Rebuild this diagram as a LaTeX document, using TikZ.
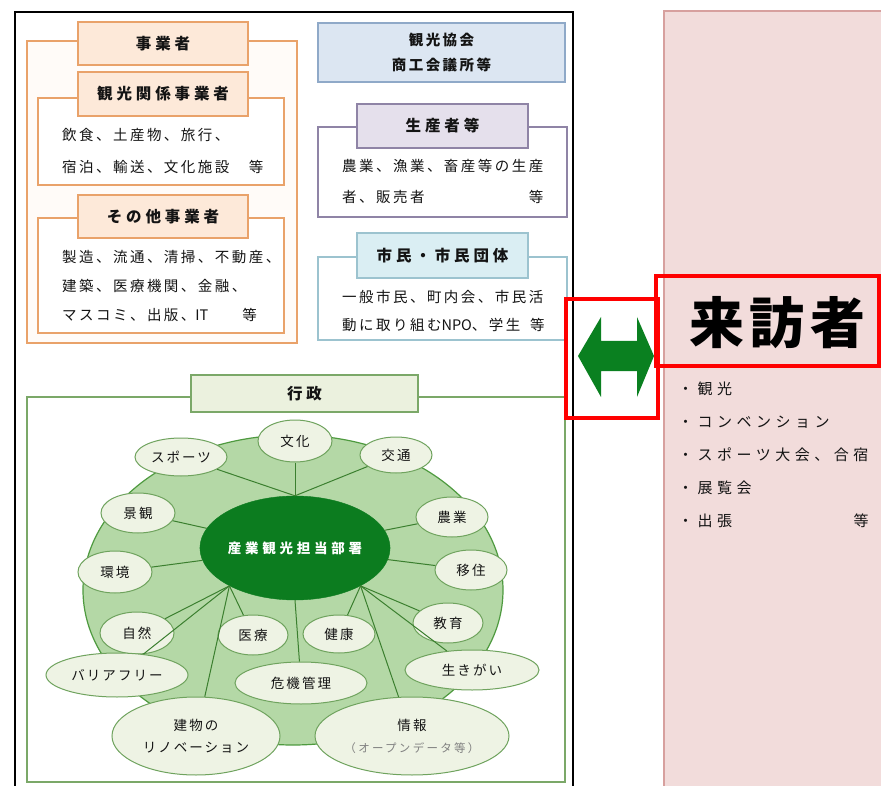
\documentclass[tikz,border=0pt]{standalone}
\usepackage{fontspec}
\setmainfont{Noto Sans CJK JP}
\newfontfamily\lsT[LetterSpace=25]{Noto Sans CJK JP}
\newfontfamily\lsB[LetterSpace=17]{Noto Sans CJK JP}
\newfontfamily\lsE[LetterSpace=15]{Noto Sans CJK JP}
\newfontfamily\lsC[LetterSpace=28]{Noto Sans CJK JP}
\newfontfamily\lsL[LetterSpace=30]{Noto Sans CJK JP}
\newfontfamily\lsV[LetterSpace=10]{Noto Sans CJK JP}
\newfontfamily\lsS[LetterSpace=20]{Noto Sans CJK JP}
\newfontfamily\lsN{Noto Sans CJK JP}
\usetikzlibrary{shapes.geometric}
\definecolor{orB}{HTML}{E9A26A}
\definecolor{orF}{HTML}{FDE9D9}
\definecolor{orP}{HTML}{FFFBF8}
\definecolor{blB}{HTML}{8FA9C8}
\definecolor{blF}{HTML}{DCE6F2}
\definecolor{puB}{HTML}{8F84A6}
\definecolor{puF}{HTML}{E5E0EC}
\definecolor{cyB}{HTML}{9CC3CF}
\definecolor{cyF}{HTML}{DAEEF3}
\definecolor{grB}{HTML}{7BA868}
\definecolor{grF}{HTML}{EBF1DE}
\definecolor{ringF}{HTML}{B4D8A6}
\definecolor{ringB}{HTML}{4E9A3F}
\definecolor{lineG}{HTML}{3B7F2F}
\definecolor{ellF}{HTML}{EEF3E4}
\definecolor{ellB}{HTML}{6FA35E}
\definecolor{darkG}{HTML}{0C7C1F}
\definecolor{arrG}{HTML}{0A8020}
\definecolor{pkF}{HTML}{F2DCDB}
\definecolor{pkB}{HTML}{D7A09E}
\definecolor{txt}{HTML}{141414}
\tikzset{
  outerbox/.style={draw=#1, line width=1.2pt, fill=white, inner sep=0pt},
  tabbox/.style 2 args={draw=#1, fill=#2, line width=1.2pt, inner sep=0pt, text=txt,
     font=\lsT\fontsize{15.5}{18}\selectfont\bfseries},
  body/.style={anchor=west, inner sep=0pt, align=left, text=txt},
  ell/.style={ellipse, draw=ellB, fill=ellF, line width=1pt, inner sep=0pt, text=txt,
     font=\lsE\fontsize{13.5}{22}\selectfont, align=center},
  spoke/.style={draw=lineG, line width=1pt},
  redbox/.style={draw=red, line width=3.5pt}
}
\begin{document}
\begin{tikzpicture}[x=1pt,y=-1pt]
\useasboundingbox (0,0) rectangle (881,786);
\clip (0,0) rectangle (881,786);
\fill[white] (0,0) rectangle (881,786);
% right pink area
\draw[draw=pkB, fill=pkF, line width=1.2pt] (664,11) rectangle (920,820);
% black frame
\draw[line width=1.6pt] (15,800) -- (15,12) -- (573,12) -- (573,800);
% 事業者
\node[outerbox=orB, fill=orP, minimum width=270, minimum height=302] (jgo) at (162,192) {};
\node[tabbox={orB}{orF}, minimum width=170, minimum height=43] (jgot) at (163,43.5) {事業者};
\node[outerbox=orB, minimum width=246, minimum height=87] (kan) at (161,141.5) {};
\node[tabbox={orB}{orF}, minimum width=170, minimum height=44] (kant) at (163,94) {観光関係事業者};
\node[body, font=\lsB\fontsize{14.5}{32}\selectfont] (kanx) at (62,151) {飲食、土産物、旅行、\\宿泊、輸送、文化施設　等};
\node[outerbox=orB, minimum width=246, minimum height=115] (oth) at (161,275.5) {};
\node[tabbox={orB}{orF}, minimum width=170, minimum height=43] (otht) at (163,216.5) {その他事業者};
\node[body, font=\lsB\fontsize{14.5}{29}\selectfont] (othx) at (62,286) {製造、流通、清掃、不動産、\\建築、医療機関、金融、\\マスコミ、出版、{\lsN IT}　　等};
% 観光協会
\node[tabbox={blB}{blF}, minimum width=247, minimum height=59, align=center,
      font=\lsB\fontsize{14.5}{25}\selectfont\bfseries] (kyo) at (441.5,52.5) {観光協会\\商工会議所等};
% 生産者等
\node[outerbox=puB, minimum width=249, minimum height=90] (sei) at (442.5,172) {};
\node[tabbox={puB}{puF}, minimum width=171, minimum height=44] (seit) at (442.5,126) {生産者等};
\node[body, font=\lsB\fontsize{14.5}{31}\selectfont] (seix) at (342,181.5) {農業、漁業、畜産等の生産\\者、販売者　　　　　　等};
% 市民
\node[outerbox=cyB, minimum width=249, minimum height=83] (shi) at (442.5,298.5) {};
\node[tabbox={cyB}{cyF}, minimum width=171, minimum height=45] (shit) at (442.5,255.5) {市民・市民団体};
\node[body, font=\lsB\fontsize{14.5}{28}\selectfont] (shix) at (342,311) {一般市民、町内会、市民活\\動に取り組む{\lsN NPO}、学生\hspace{4pt} 等};
% 行政
\node[outerbox=grB, minimum width=538, minimum height=385] (gyo) at (296,589.5) {};
\node[tabbox={grB}{grF}, minimum width=227, minimum height=37] (gyot) at (304.5,393.5) {行政};
\node[ellipse, draw=ringB, fill=ringF, line width=1.2pt, minimum width=420, minimum height=310, inner sep=0pt] (ring) at (293,590) {};
\node[ellipse, fill=darkG, draw=darkG, minimum width=186, minimum height=104, inner sep=0pt,
      text=white, font=\lsC\fontsize{13.5}{16}\selectfont\bfseries] (c) at (295,548) {産業観光担当部署};
\node[ell, minimum width=74, minimum height=42] (bunka) at (295,441) {文化};
\node[ell, minimum width=92, minimum height=38] (sports) at (181,457) {スポーツ};
\node[ell, minimum width=72, minimum height=36] (kotsu) at (396,455) {交通};
\node[ell, minimum width=74, minimum height=40] (keikan) at (138,513) {景観};
\node[ell, minimum width=72, minimum height=40] (nogyo) at (452,517) {農業};
\node[ell, minimum width=74, minimum height=42] (kankyo) at (115,572) {環境};
\node[ell, minimum width=72, minimum height=40] (iju) at (471,570) {移住};
\node[ell, minimum width=74, minimum height=42] (shizen) at (137,633) {自然};
\node[ell, minimum width=70, minimum height=40] (iryo) at (253,635) {医療};
\node[ell, minimum width=72, minimum height=38] (kenko) at (339,634) {健康};
\node[ell, minimum width=70, minimum height=40] (kyoiku) at (448,623) {教育};
\node[ell, minimum width=142, minimum height=44] (barrier) at (117,675) {バリアフリー};
\node[ell, minimum width=132, minimum height=42] (kiki) at (301,683) {危機管理};
\node[ell, minimum width=134, minimum height=40] (ikigai) at (472,670) {生きがい};
\node[ell, minimum width=168, minimum height=78] (tatemono) at (196,736) {建物の\\リノベーション};
\node[ell, minimum width=194, minimum height=78] (joho) at (412,736) {情報\\{\lsS\color{gray}\fontsize{11.5}{14}\selectfont（オープンデータ等）}};
% spokes
\draw[spoke] (c.north) -- (sports);
\draw[spoke] (c.north) -- (bunka);
\draw[spoke] (c.north) -- (kotsu);
\draw[spoke] (c) -- (keikan);
\draw[spoke] (c) -- (kankyo);
\draw[spoke] (c) -- (nogyo);
\draw[spoke] (c) -- (iju);
\draw[spoke] (c.210) -- (shizen);
\draw[spoke] (c.210) -- (barrier);
\draw[spoke] (c.210) -- (tatemono);
\draw[spoke] (c.210) -- (iryo);
\draw[spoke] (c.south) -- (kiki);
\draw[spoke] (c.330) -- (kenko);
\draw[spoke] (c.330) -- (kyoiku);
\draw[spoke] (c.330) -- (ikigai);
\draw[spoke] (c.330) -- (joho);
% arrow
\fill[arrG] (578,356) -- (601,317) -- (601,341) -- (637,341) -- (637,317) -- (654,356)
   -- (637,397) -- (637,371) -- (601,371) -- (601,397) -- cycle;
\node[redbox, minimum width=92, minimum height=119, inner sep=0pt] (arrbox) at (612,358.5) {};
\node[redbox, minimum width=223, minimum height=90, inner sep=0pt] (raibox) at (767.5,321) {};
\node[inner sep=0pt, text=black, font=\lsV\fontsize{55}{60}\selectfont\bfseries] (rai) at (777,323) {来訪者};
\node[body, font=\lsL\fontsize{15}{33}\selectfont] (list) at (678,455) {・観光\\・コンベンション\\・スポーツ大会、合宿\\・展覧会\\・出張　　　　　　等};
\end{tikzpicture}
\end{document}
